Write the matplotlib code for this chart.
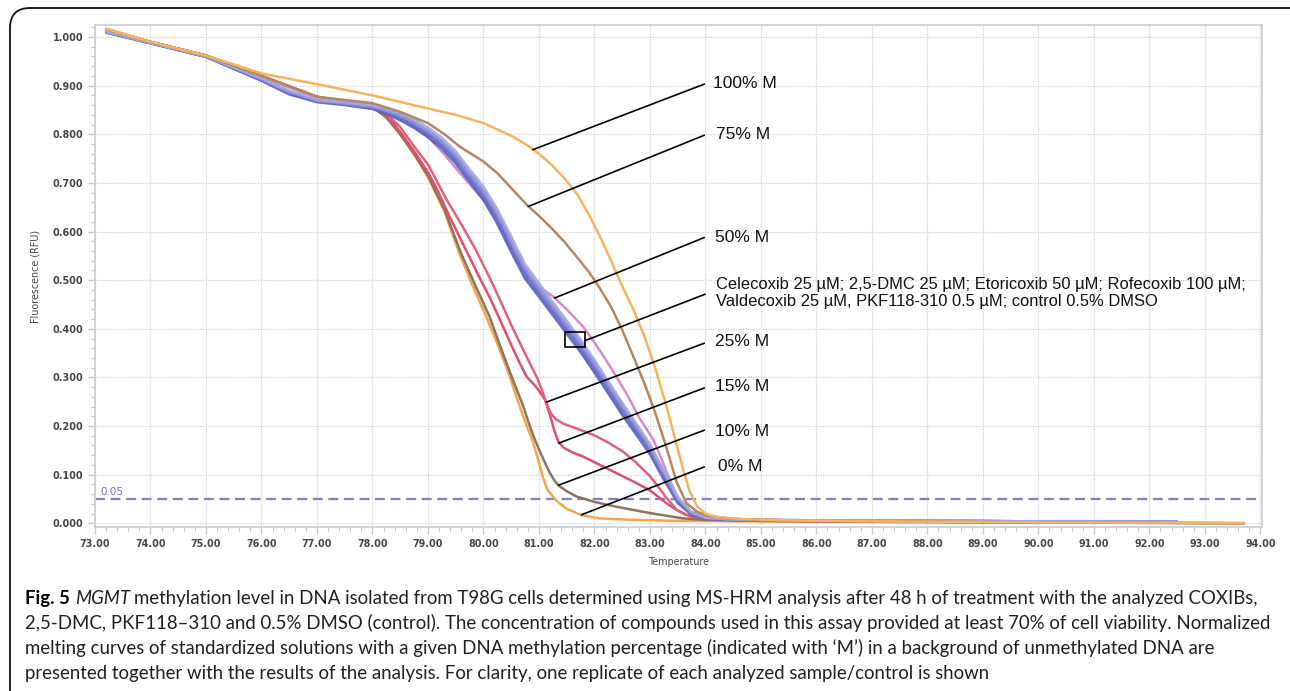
import numpy as np
import matplotlib
matplotlib.use("Agg")
import matplotlib.pyplot as plt
from matplotlib.ticker import MultipleLocator, AutoMinorLocator, FormatStrFormatter
from matplotlib.patches import FancyBboxPatch, Rectangle
from matplotlib.transforms import IdentityTransform

# ---------------- data ----------------
T100 = [73.2, 74, 75, 76, 77, 78, 79, 79.5, 80, 80.5, 80.8, 81.0, 81.2, 81.44, 81.7, 81.9, 82.1,
        82.3, 82.5, 82.7, 82.9, 83.1, 83.3, 83.45, 83.6, 83.72, 83.85, 84.0, 84.2, 84.6, 85.5, 87,
        90, 93.7]
F100 = [1.017, 0.990, 0.962, 0.925, 0.903, 0.880, 0.853, 0.840, 0.823, 0.797, 0.777, 0.760, 0.740,
        0.712, 0.675, 0.635, 0.590, 0.540, 0.488, 0.440, 0.385, 0.318, 0.240, 0.175, 0.110, 0.065,
        0.035, 0.020, 0.013, 0.009, 0.006, 0.004, 0.002, 0.001]

T75 = [73.2, 74, 75, 76, 77, 78, 78.5, 79, 79.3, 79.58, 80, 80.25, 80.48, 80.78, 81.02, 81.2,
       81.45, 81.68, 81.9, 82.1, 82.3, 82.5, 82.7, 82.9, 83.1, 83.3, 83.48, 83.66, 83.85, 84.02,
       84.5, 85.5, 87, 90, 93.7]
F75 = [1.016, 0.990, 0.962, 0.920, 0.877, 0.864, 0.846, 0.823, 0.800, 0.774, 0.744, 0.720, 0.692,
       0.655, 0.630, 0.610, 0.580, 0.548, 0.517, 0.483, 0.445, 0.398, 0.343, 0.288, 0.226, 0.155,
       0.085, 0.041, 0.024, 0.016, 0.009, 0.006, 0.004, 0.002, 0.0]

T50 = [73.2, 74, 75, 76, 77, 78, 78.5, 79, 79.3, 79.58, 80, 80.25, 80.5, 80.65, 80.78, 81.0, 81.26,
       81.5, 81.8, 82.1, 82.4, 82.62, 82.82, 82.95, 83.06, 83.2, 83.35, 83.45, 83.54, 83.7, 83.9,
       84.3, 85, 87, 90]
F50 = [1.014, 0.989, 0.961, 0.918, 0.875, 0.858, 0.835, 0.795, 0.758, 0.720, 0.665, 0.625, 0.580,
       0.545, 0.512, 0.487, 0.466, 0.440, 0.404, 0.355, 0.301, 0.258, 0.215, 0.192, 0.172, 0.135,
       0.092, 0.065, 0.045, 0.026, 0.017, 0.010, 0.007, 0.005, 0.003]

T25 = [73.2, 74, 75, 76, 77, 78, 78.25, 78.5, 78.75, 79.0, 79.34, 79.6, 79.85, 80.1, 80.3, 80.5,
       80.66, 80.82, 80.96, 81.05, 81.13, 81.22, 81.32, 81.44, 81.7, 81.98, 82.25, 82.52, 82.75,
       83.0, 83.15, 83.3, 83.48, 83.72, 84.1, 85, 87, 90]
F25 = [1.015, 0.990, 0.962, 0.920, 0.877, 0.860, 0.842, 0.815, 0.775, 0.738, 0.665, 0.615, 0.565,
       0.508, 0.459, 0.408, 0.370, 0.333, 0.301, 0.275, 0.249, 0.225, 0.213, 0.205, 0.194, 0.182,
       0.166, 0.147, 0.125, 0.097, 0.075, 0.052, 0.028, 0.014, 0.008, 0.005, 0.004, 0.002]

T15 = [73.2, 74, 75, 76, 77, 78, 78.25, 78.5, 78.75, 79.0, 79.15, 79.4, 79.63, 79.9, 80.11, 80.3,
       80.48, 80.63, 80.78, 80.9, 81.0, 81.11, 81.2, 81.28, 81.35, 81.45, 81.6, 81.8, 82.1, 82.4,
       82.7, 83.0, 83.3, 83.5, 83.66, 84.02, 85, 87, 90]
F15 = [1.015, 0.990, 0.962, 0.920, 0.877, 0.858, 0.840, 0.805, 0.765, 0.722, 0.690, 0.628, 0.575,
       0.512, 0.465, 0.418, 0.372, 0.335, 0.301, 0.287, 0.273, 0.254, 0.222, 0.190, 0.168, 0.155,
       0.146, 0.137, 0.120, 0.103, 0.086, 0.068, 0.041, 0.026, 0.017, 0.010, 0.006, 0.004, 0.002]

T10 = [73.2, 74, 75, 76, 77, 78, 78.25, 78.5, 78.75, 79.0, 79.3, 79.58, 79.85, 80.11, 80.3, 80.48,
       80.6, 80.71, 80.8, 80.9, 81.0, 81.1, 81.2, 81.28, 81.35, 81.5, 81.68, 82.0, 82.4, 83.0, 83.6,
       84.02, 85, 87, 90, 93.7]
F10 = [1.016, 0.990, 0.962, 0.920, 0.877, 0.856, 0.835, 0.800, 0.760, 0.715, 0.645, 0.560, 0.490,
       0.425, 0.365, 0.310, 0.275, 0.243, 0.212, 0.180, 0.152, 0.127, 0.103, 0.088, 0.078, 0.066,
       0.055, 0.044, 0.034, 0.021, 0.010, 0.007, 0.005, 0.003, 0.002, 0.0]

T0 = [73.2, 74, 75, 76, 77, 78, 78.25, 78.5, 78.75, 79.0, 79.3, 79.55, 79.8, 80.05, 80.25, 80.45,
      80.6, 80.75, 80.9, 81.0, 81.07, 81.15, 81.25, 81.32, 81.5, 81.76, 82.1, 82.7, 83.5, 85, 87, 90]
F0 = [1.017, 0.990, 0.962, 0.920, 0.877, 0.856, 0.835, 0.800, 0.758, 0.712, 0.640, 0.560, 0.490,
      0.425, 0.370, 0.310, 0.258, 0.210, 0.165, 0.125, 0.095, 0.070, 0.055, 0.046, 0.030, 0.017,
      0.010, 0.007, 0.005, 0.004, 0.003, 0.001]

# analysed samples (blue band), shared temperature grid
T_samples = [73.2, 74, 75, 76, 76.5, 77, 77.5, 78, 78.25, 78.5, 78.75, 79, 79.25, 79.5, 79.75, 80,
             80.25, 80.5, 80.75, 81, 81.25, 81.5, 81.75, 82, 82.25, 82.5, 82.75, 83, 83.25, 83.5,
             83.75, 84, 84.5, 85, 86, 88, 90, 92.5]
F_celecoxib = [1.010, 0.988, 0.960, 0.912, 0.885, 0.868, 0.862, 0.855, 0.846, 0.835, 0.820, 0.802,
               0.780, 0.750, 0.712, 0.676, 0.628, 0.570, 0.514, 0.476, 0.438, 0.400, 0.362, 0.320,
               0.277, 0.233, 0.192, 0.150, 0.097, 0.047, 0.020, 0.011, 0.007, 0.006, 0.006, 0.005,
               0.004, 0.003]
F_dmc = [1.012, 0.989, 0.961, 0.914, 0.888, 0.870, 0.864, 0.858, 0.850, 0.840, 0.826, 0.808, 0.787,
         0.758, 0.721, 0.686, 0.639, 0.582, 0.526, 0.487, 0.449, 0.411, 0.373, 0.331, 0.288, 0.244,
         0.203, 0.160, 0.106, 0.053, 0.022, 0.012, 0.008, 0.007, 0.006, 0.005, 0.004, 0.003]
F_etoricoxib = [1.011, 0.988, 0.960, 0.915, 0.890, 0.872, 0.866, 0.860, 0.853, 0.844, 0.831, 0.814,
                0.793, 0.765, 0.728, 0.693, 0.646, 0.590, 0.533, 0.494, 0.455, 0.417, 0.378, 0.336,
                0.292, 0.248, 0.206, 0.163, 0.109, 0.055, 0.023, 0.012, 0.008, 0.007, 0.006, 0.005,
                0.004, 0.003]
F_rofecoxib = [1.009, 0.987, 0.959, 0.910, 0.882, 0.866, 0.860, 0.852, 0.842, 0.829, 0.813, 0.794,
               0.771, 0.740, 0.702, 0.665, 0.616, 0.558, 0.503, 0.466, 0.428, 0.390, 0.352, 0.310,
               0.267, 0.223, 0.183, 0.142, 0.090, 0.042, 0.017, 0.009, 0.007, 0.006, 0.005, 0.005,
               0.004, 0.003]
F_valdecoxib = [1.010, 0.988, 0.960, 0.913, 0.886, 0.869, 0.863, 0.856, 0.848, 0.837, 0.823, 0.805,
                0.783, 0.754, 0.716, 0.681, 0.633, 0.576, 0.520, 0.481, 0.443, 0.405, 0.367, 0.325,
                0.282, 0.238, 0.197, 0.155, 0.101, 0.050, 0.021, 0.011, 0.007, 0.006, 0.006, 0.005,
                0.004, 0.003]
F_pkf = [1.011, 0.989, 0.961, 0.913, 0.887, 0.870, 0.864, 0.857, 0.849, 0.839, 0.825, 0.807, 0.786,
         0.757, 0.719, 0.684, 0.637, 0.580, 0.524, 0.485, 0.447, 0.409, 0.371, 0.329, 0.286, 0.242,
         0.201, 0.158, 0.104, 0.051, 0.021, 0.011, 0.008, 0.007, 0.006, 0.005, 0.004, 0.003]
F_control = [1.010, 0.987, 0.959, 0.911, 0.884, 0.867, 0.861, 0.853, 0.844, 0.832, 0.817, 0.798,
             0.776, 0.745, 0.707, 0.671, 0.622, 0.564, 0.508, 0.471, 0.433, 0.395, 0.357, 0.315,
             0.272, 0.228, 0.188, 0.146, 0.094, 0.045, 0.019, 0.010, 0.007, 0.006, 0.006, 0.005,
             0.004, 0.003]

threshold = 0.05

std_labels = ["100% M", "75% M", "50% M", "25% M", "15% M", "10% M", "0% M"]
sample_label = ("Celecoxib 25 µM; 2,5-DMC 25 µM; Etoricoxib 50 µM; Rofecoxib 100 µM;\n"
                "Valdecoxib 25 µM, PKF118-310 0.5 µM; control 0.5% DMSO")

# ---------------- figure ----------------
W, H = 1290, 691
fig = plt.figure(figsize=(W / 100, H / 100), dpi=100)
fig.patch.set_facecolor("white")

def fx(px):
    return px / W

def fy(py):
    return 1 - py / H

ax = fig.add_axes([fx(95), fy(527), fx(1262) - fx(95), fy(25) - fy(527)])
ax.set_xlim(73.0, 94.03)
ax.set_ylim(-0.0076, 1.0247)

ax.grid(True, which="major", color="#d4d4d4", linestyle=(0, (1, 1)), linewidth=0.9)
ax.set_axisbelow(True)
for s in ax.spines.values():
    s.set_color("#ccd0d8")
    s.set_linewidth(1.3)

ax.xaxis.set_major_locator(MultipleLocator(1))
ax.xaxis.set_minor_locator(AutoMinorLocator(5))
ax.yaxis.set_major_locator(MultipleLocator(0.1))
ax.yaxis.set_minor_locator(AutoMinorLocator(5))
ax.xaxis.set_major_formatter(FormatStrFormatter("%.2f"))
ax.yaxis.set_major_formatter(FormatStrFormatter("%.3f"))
ax.tick_params(which="major", direction="out", length=5, width=1, color="#c4c8d0",
               labelsize=6.9, labelcolor="#454545", pad=3.5)
ax.tick_params(which="minor", direction="out", length=3, width=0.8, color="#c4c8d0")
for lab in ax.get_xticklabels() + ax.get_yticklabels():
    lab.set_fontweight("bold")
    lab.set_family("DejaVu Sans")

# threshold line
ax.axhline(threshold, color="#7b7fd4", lw=1.6, linestyle=(0, (4.5, 2.5)), zorder=2)
ax.text(73.09, threshold + 0.004, "0.05", color="#7070cc", fontsize=7.5, ha="left", va="bottom")

lw = 1.8
kw = dict(lw=lw, solid_joinstyle="round", solid_capstyle="round")
ax.plot(T0, F0, color="#f6a54a", zorder=3, **kw)
ax.plot(T10, F10, color="#8c7560", zorder=3, **kw)
ax.plot(T15, F15, color="#df4f6e", zorder=3, **kw)
ax.plot(T25, F25, color="#e3607c", zorder=3, **kw)
ax.plot(T50, F50, color="#d58ccb", zorder=3, **kw)
sample_series = [F_rofecoxib, F_control, F_celecoxib, F_valdecoxib, F_pkf, F_dmc, F_etoricoxib]
sample_colors = ["#5a5fbd", "#6569c6", "#6b70c9", "#7d82d4", "#8a8fd8", "#9498dc", "#a4a8e2"]
for F, c in zip(sample_series, sample_colors):
    ax.plot(T_samples, F, color=c, alpha=0.9, zorder=4, **kw)
ax.plot(T75, F75, color="#b8865e", zorder=5, **kw)
ax.plot(T100, F100, color="#f7b25c", zorder=5, **kw)

# ---------------- annotations ----------------
lead_start = [(80.879, 0.7678), (80.796, 0.6510), (81.270, 0.4627), (81.126, 0.2488),
              (81.348, 0.1645), (81.348, 0.0781), (81.757, 0.0171)]
lead_end = [(83.99, 0.9036), (83.99, 0.7985), (83.99, 0.5881), (83.99, 0.3708),
            (83.99, 0.2788), (83.99, 0.1919), (83.99, 0.1164)]
label_pos = [(84.14, 0.9054), (84.19, 0.7985), (84.17, 0.5867), (84.17, 0.3732),
             (84.17, 0.2807), (84.17, 0.1884), (84.23, 0.1178)]
for (x1, y1), (x2, y2), (tx, ty), lab in zip(lead_start, lead_end, label_pos, std_labels):
    ax.plot([x1, x2], [y1, y2], color="black", lw=1.2, zorder=6, solid_capstyle="butt")
    ax.text(tx, ty, lab, fontsize=12.5, family="Liberation Sans", color="#111111",
            ha="left", va="center", zorder=6)

# sample marker box + leader
ax.add_patch(Rectangle((81.468, 0.3629), 0.361, 0.0308, fill=False, edgecolor="black",
                       lw=1.2, zorder=7))
ax.plot([81.829, 83.99], [0.3755, 0.4709], color="black", lw=1.2, zorder=6)
ax.text(84.19, 0.4736, sample_label, fontsize=11.9, family="Liberation Sans", color="#111111",
        ha="left", va="center", linespacing=1.15, zorder=6)

# axis titles
fig.text(fx(35), fy(276), "Fluorescence (RFU)", rotation=90, ha="center", va="center",
         fontsize=6.9, color="#454545", family="DejaVu Sans")
fig.text(fx(679), fy(562), "Temperature", ha="center", va="center",
         fontsize=6.9, color="#454545", family="DejaVu Sans")

# ---------------- rounded frame ----------------
frame = FancyBboxPatch((10, -30), 1310, H - 8 + 30, boxstyle="round,pad=0,rounding_size=20",
                       transform=IdentityTransform(), fill=False, edgecolor="#111111", lw=1.3,
                       clip_on=False)
fig.add_artist(frame)

# ---------------- caption ----------------
cap_font = "Lato"
cap_color = "#231f20"
renderer = fig.canvas.get_renderer()

def text_width(s, size, **kw):
    t = fig.text(0, 0, s, fontsize=size, family=cap_font, **kw)
    w = t.get_window_extent(renderer).width
    t.remove()
    return w

line2_text = ("2,5-DMC, PKF118–310 and 0.5% DMSO (control). The concentration of compounds used "
              "in this assay provided at least 70% of cell viability. Normalized")
cap_size = 10 * (1272 - 25) / text_width(line2_text, 10)
space_w = text_width("a a", cap_size) - text_width("aa", cap_size)

caption_lines = [
    [("Fig. 5", "bold", "normal"), ("MGMT", "normal", "italic"),
     ("methylation level in DNA isolated from T98G cells determined using MS-HRM analysis after "
      "48 h of treatment with the analyzed COXIBs,", "normal", "normal")],
    [(line2_text, "normal", "normal")],
    [("melting curves of standardized solutions with a given DNA methylation percentage "
      "(indicated with ‘M’) in a background of unmethylated DNA are", "normal", "normal")],
    [("presented together with the results of the analysis. For clarity, one replicate of each "
      "analyzed sample/control is shown", "normal", "normal")],
]
baselines = [604, 629, 654, 679]
for pieces, base in zip(caption_lines, baselines):
    x = 25.0
    for s, wgt, sty in pieces:
        t = fig.text(fx(x), fy(base), s, fontsize=cap_size, family=cap_font, fontweight=wgt,
                     fontstyle=sty, color=cap_color if wgt == "normal" else "black",
                     ha="left", va="baseline")
        x += t.get_window_extent(renderer).width + space_w

fig.savefig("out.png", dpi=100, facecolor="white")
